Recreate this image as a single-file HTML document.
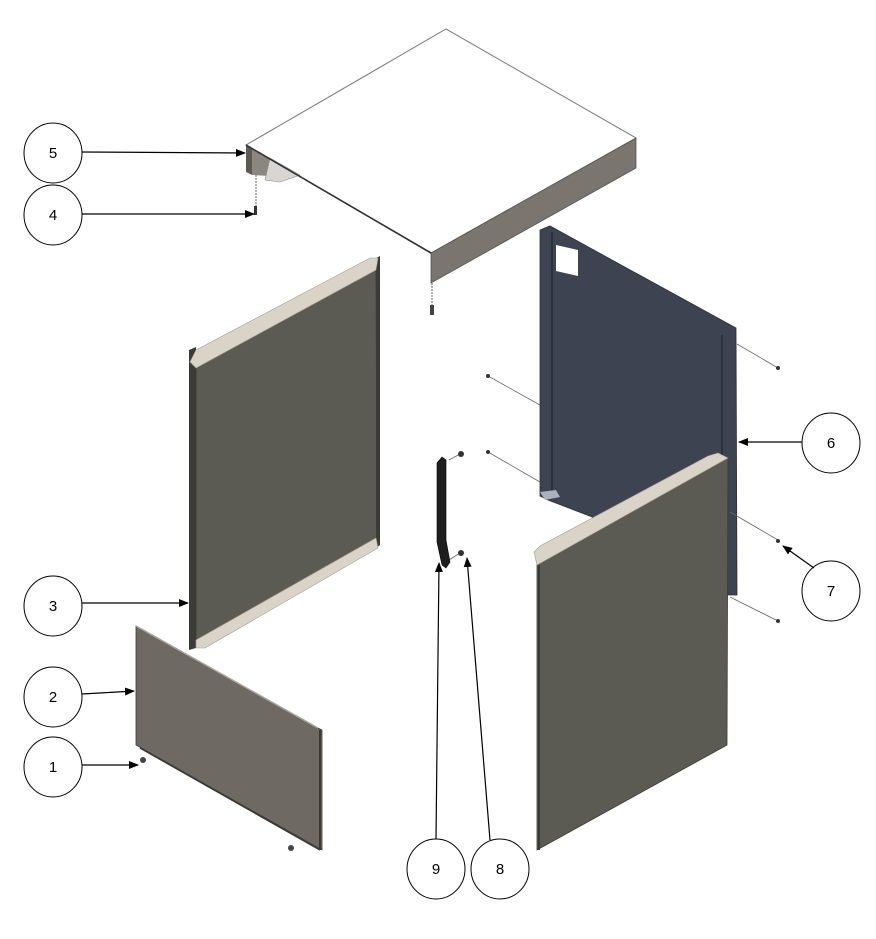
<!DOCTYPE html>
<html><head><meta charset="utf-8"><style>
html,body{margin:0;padding:0;background:#fff;}
svg{display:block;}
text{font-family:"Liberation Sans",sans-serif;font-size:15px;fill:#000;}
</style></head><body>
<svg width="876" height="939" viewBox="0 0 876 939" xmlns="http://www.w3.org/2000/svg">
<defs>
<marker id="ah" markerWidth="10" markerHeight="8" refX="9" refY="4" orient="auto" markerUnits="userSpaceOnUse">
<path d="M0,0 L10,4 L0,8 z" fill="#000"/></marker>
</defs>

<!-- Lid -->
<polygon points="246,145 446,29 636,138 431,253" fill="#fff" stroke="#777" stroke-width="1"/>
<polygon points="431,253 636,138 636,168 431,283" fill="#7a756f" stroke="#555" stroke-width="0.8"/>
<polygon points="246,145 252,148 252,175 246,172" fill="#5d5a55"/>
<polygon points="252,148 270,158 270,176 252,175" fill="#8a8680"/>
<polygon points="270,158 300,175 280,182 265,180" fill="#d8d6d2" stroke="#888" stroke-width="0.6"/>
<line x1="246" y1="145" x2="431" y2="253" stroke="#333" stroke-width="1.6"/>
<line x1="256" y1="175" x2="256" y2="212" stroke="#666" stroke-width="1" stroke-dasharray="2,1"/>
<rect x="254" y="206" width="3" height="9" fill="#333"/>
<line x1="432" y1="280" x2="432" y2="312" stroke="#666" stroke-width="1" stroke-dasharray="2,1"/>
<rect x="430" y="305" width="4" height="10" fill="#444"/>

<!-- Back panel 6 -->
<polygon points="540,230 550,226 736,328 737,595 726,595 600,520 548,500 540,496" fill="#3d4350" stroke="#2b2f38" stroke-width="0.8"/>
<line x1="552" y1="232" x2="552" y2="498" stroke="#22262e" stroke-width="1.2"/>
<line x1="722" y1="335" x2="722" y2="595" stroke="#22262e" stroke-width="1.2"/>
<polygon points="556,245 578,250 578,276 556,271" fill="#fff"/>
<polygon points="540,492 556,490 560,497 545,500" fill="#a9b1c0"/>
<g stroke="#666" stroke-width="0.8">
<line x1="488" y1="376" x2="540" y2="405"/>
<line x1="488" y1="452" x2="540" y2="482"/>
<line x1="737" y1="344" x2="778" y2="368"/>
<line x1="730" y1="512" x2="778" y2="540"/>
<line x1="730" y1="597" x2="778" y2="621"/>
<line x1="449" y1="460" x2="460" y2="454"/>
<line x1="449" y1="560" x2="460" y2="553"/>
</g>
<g fill="#333">
<circle cx="488" cy="376" r="2"/><circle cx="488" cy="452" r="2"/>
<circle cx="778" cy="368" r="2"/><circle cx="778" cy="541" r="2"/><circle cx="778" cy="621" r="2"/>
<circle cx="461" cy="454" r="3"/><circle cx="461" cy="553" r="3"/>
</g>

<!-- Right panel -->
<polygon points="537,563 728,458 727,745 537,850" fill="#5b5b54" stroke="#3a3a36" stroke-width="0.8"/>
<line x1="539" y1="565" x2="539" y2="850" stroke="#3a3a36" stroke-width="2"/>
<polygon points="534,552 540,546 708,456 718,453 728,458 537,565" fill="#d9d3c8" stroke="#a39c90" stroke-width="0.6"/>

<!-- Left panel 3 -->
<polygon points="196,352 376,262 377,545 196,645" fill="#5b5a53" stroke="#3a3a36" stroke-width="0.8"/>
<polygon points="189,350 196,347 196,648 189,650" fill="#3b3b38"/>
<polygon points="376,258 380,256 380,545 376,548" fill="#3b3b38"/>
<polygon points="190,362 196,350 370,258 378,258 376,270 196,368" fill="#d9d3c8" stroke="#a39c90" stroke-width="0.6"/>
<polygon points="196,640 376,538 378,548 205,648 196,648" fill="#d9d3c8" stroke="#a39c90" stroke-width="0.6"/>

<!-- Panel 2 -->
<polygon points="136,626 318,728 322,730 322,850 136,745" fill="#6e6963" stroke="#3d3a36" stroke-width="0.8"/>
<line x1="136" y1="626" x2="318" y2="728" stroke="#aaa49c" stroke-width="1.5"/>
<line x1="140" y1="748" x2="320" y2="850" stroke="#3a3733" stroke-width="1.5"/>
<line x1="320" y1="730" x2="320" y2="850" stroke="#3a3733" stroke-width="2"/>
<circle cx="143" cy="760" r="3" fill="#444"/>
<circle cx="291" cy="848" r="3" fill="#444"/>

<!-- Handle 9 -->
<path d="M437,463 L442,457 L446,460 L446,540 L450,562 L446,568 L442,565 L437,542 Z" fill="#1e1e1e" stroke="#000" stroke-width="0.6"/>

<!-- Callouts -->
<g fill="#fff" stroke="#000" stroke-width="1">
<ellipse cx="53" cy="153" rx="29" ry="30"/>
<ellipse cx="53" cy="215" rx="29" ry="30"/>
<ellipse cx="53" cy="606" rx="29" ry="30"/>
<ellipse cx="53" cy="697" rx="29" ry="30"/>
<ellipse cx="53" cy="767" rx="29" ry="30"/>
<ellipse cx="831" cy="443" rx="29" ry="30"/>
<ellipse cx="831" cy="591" rx="29" ry="30"/>
<ellipse cx="436" cy="869" rx="29" ry="30"/>
<ellipse cx="500" cy="869" rx="29" ry="30"/>
</g>
<g stroke="#000" stroke-width="1.2" marker-end="url(#ah)">
<line x1="82" y1="152" x2="245" y2="153"/>
<line x1="82" y1="214" x2="254" y2="214"/>
<line x1="82" y1="603" x2="188" y2="603"/>
<line x1="82" y1="694" x2="134" y2="691"/>
<line x1="82" y1="765" x2="138" y2="765"/>
<line x1="802" y1="442" x2="739" y2="442"/>
<line x1="814" y1="568" x2="783" y2="546"/>
<line x1="436" y1="839" x2="439" y2="563"/>
<line x1="490" y1="840" x2="467" y2="558"/>
</g>
<g text-anchor="middle">
<text x="53" y="158">5</text>
<text x="53" y="220">4</text>
<text x="53" y="611">3</text>
<text x="53" y="702">2</text>
<text x="53" y="772">1</text>
<text x="831" y="448">6</text>
<text x="831" y="596">7</text>
<text x="436" y="874">9</text>
<text x="500" y="874">8</text>
</g>
</svg>
</body></html>
